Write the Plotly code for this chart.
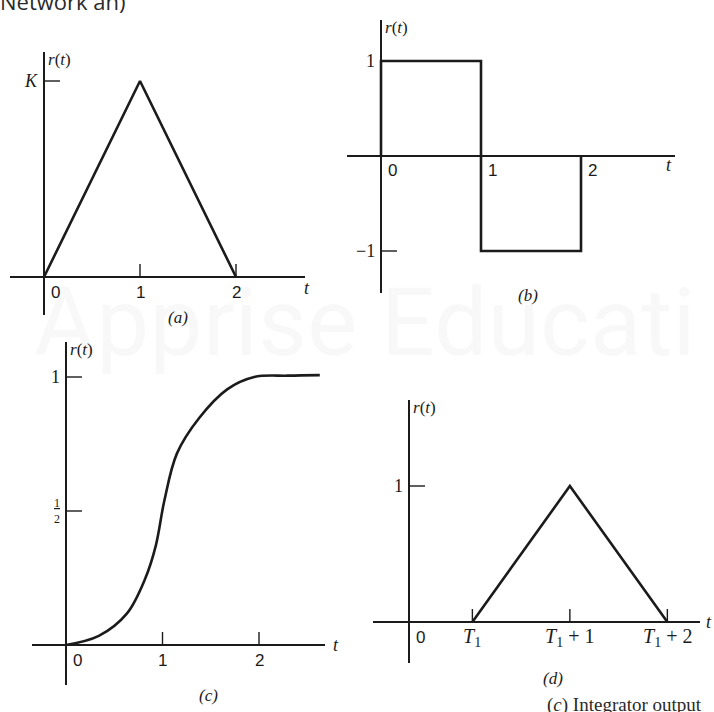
import plotly.graph_objects as go

W, H = 714, 712

# ---------------- data ----------------
# (a) triangular pulse of height K over 0..2
a_t = [0, 1, 2]
a_r = [0, 1, 0]
a_xticks = [1, 2]
a_xlabels = ["1", "2"]
a_yticks = [1]
a_ylabels = ["K"]

# (b) doublet: +1 on 0..1, -1 on 1..2
b_t = [0, 0, 1, 1, 2, 2]
b_r = [0, 1, 1, -1, -1, 0]
b_xticks = [1, 2]
b_xlabels = ["1", "2"]
b_yticks = [1, -1]
b_ylabels = ["1", "\u22121"]

# (c) smooth S-shaped response settling at 1
c_t = [0, 0.34, 0.63, 0.82, 0.93, 1.02, 1.15, 1.38, 1.67, 1.95, 2.3, 2.63]
c_r = [0, 0.034, 0.117, 0.247, 0.37, 0.54, 0.715, 0.847, 0.954, 1.0, 1.005, 1.007]
c_xticks = [1, 2]
c_xlabels = ["1", "2"]
c_yticks = [1, 0.5]
c_ylabels = ["1", "<u>1</u><br>2"]

# (d) triangle delayed by T1
T1 = 0.65
d_t = [T1, T1 + 1, T1 + 2]
d_r = [0, 1, 0]
d_xticks = [T1, T1 + 1, T1 + 2]
d_xlabels = ["<i>T</i><sub>1</sub>", "<i>T</i><sub>1</sub> + 1", "<i>T</i><sub>1</sub> + 2"]
d_yticks = [1]
d_ylabels = ["1"]

# ---------------- layout geometry (pixels) ----------------
INK = "#1b1b1b"
SERIF = "Liberation Serif"
SANS = "Liberation Sans"

panels = [
    # box (left, top, right, bottom), origin (x, y), pixels per unit of t and r
    dict(name="a", box=(10, 52, 305, 315), origin=(44, 277), ux=96, uy=196,
         t=a_t, r=a_r, xt=a_xticks, xl=a_xlabels, yt=a_yticks, yl=a_ylabels,
         ytickmarks=[1], spline=False, cap="(a)", cap_xy=(178, 318),
         tlab=(2, -11), xlab_sans=True),
    dict(name="b", box=(347, 20, 675, 293), origin=(381, 156), ux=100, uy=95,
         t=b_t, r=b_r, xt=b_xticks, xl=b_xlabels, yt=b_yticks, yl=b_ylabels,
         ytickmarks=[-1], spline=False, cap="(b)", cap_xy=(528, 295),
         tlab=(-6, -9), xlab_sans=True),
    dict(name="c", box=(32, 342, 325, 685), origin=(66, 645), ux=96.5, uy=268,
         t=c_t, r=c_r, xt=c_xticks, xl=c_xlabels, yt=c_yticks, yl=c_ylabels,
         ytickmarks=[1, 0.5], spline=True, cap="(c)", cap_xy=(208, 695),
         tlab=(11, 0), xlab_sans=True),
    dict(name="d", box=(373, 400, 700, 663), origin=(409, 622), ux=97.5, uy=136,
         t=d_t, r=d_r, xt=d_xticks, xl=d_xlabels, yt=d_yticks, yl=d_ylabels,
         ytickmarks=[1], spline=False, cap="(d)", cap_xy=(553, 678),
         tlab=(9, 0), xlab_sans=False),
]

xticks_drawn = {"a": [1, 2], "b": [], "c": [1, 2], "d": d_xticks}

fig = go.Figure()
shapes = []
annotations = []


def px(x, y):
    return x / W, 1 - y / H


for i, p in enumerate(panels, start=1):
    sfx = "" if i == 1 else str(i)
    xa, ya = "x" + sfx, "y" + sfx
    left, top, right, bottom = p["box"]
    ox, oy = p["origin"]
    ux, uy = p["ux"], p["uy"]

    common = dict(showgrid=False, showticklabels=False, ticks="", showline=False,
                  zeroline=True, zerolinecolor=INK, zerolinewidth=1.5, fixedrange=True)
    fig.layout["xaxis" + sfx] = dict(
        domain=[left / W, right / W],
        range=[(left - ox) / ux, (right - ox) / ux],
        anchor=ya, **common)
    fig.layout["yaxis" + sfx] = dict(
        domain=[1 - bottom / H, 1 - top / H],
        range=[(oy - bottom) / uy, (oy - top) / uy],
        anchor=xa, **common)

    fig.add_trace(go.Scatter(
        x=p["t"], y=p["r"], mode="lines", xaxis=xa, yaxis=ya,
        line=dict(color=INK, width=2.6,
                  shape="spline" if p["spline"] else "linear", smoothing=1.0),
        hoverinfo="skip", showlegend=False))

    # tick marks standing up from the t axis
    for tv in xticks_drawn[p["name"]]:
        shapes.append(dict(type="line", xref=xa, yref=ya, ysizemode="pixel",
                           yanchor=0, x0=tv, x1=tv, y0=0, y1=13,
                           line=dict(color=INK, width=1.4)))
    # tick marks pointing right from the r axis
    for rv in p["ytickmarks"]:
        shapes.append(dict(type="line", xref=xa, yref=ya, xsizemode="pixel",
                           xanchor=0, x0=0, x1=16, y0=rv, y1=rv,
                           line=dict(color=INK, width=1.4)))

    # origin label
    annotations.append(dict(xref=xa, yref=ya, x=0, y=0, text="0", showarrow=False,
                            xanchor="center", yanchor="middle", xshift=11, yshift=-15,
                            font=dict(family=SANS, size=17, color=INK)))
    # t-axis labels
    for tv, lab in zip(p["xt"], p["xl"]):
        shift = 11 if p["name"] == "b" else 0
        annotations.append(dict(
            xref=xa, yref=ya, x=tv, y=0, text=lab, showarrow=False,
            xanchor="center", yanchor="middle", xshift=shift, yshift=-15,
            font=dict(family=SANS if p["xlab_sans"] else SERIF,
                      size=17 if p["xlab_sans"] else 20, color=INK)))
    # r-axis labels
    for rv, lab in zip(p["yt"], p["yl"]):
        small = "<br>" in lab
        annotations.append(dict(
            xref=xa, yref=ya, x=0, y=rv,
            text=("<i>%s</i>" % lab) if lab == "K" else lab,
            showarrow=False, xanchor="right", yanchor="middle", xshift=-4,
            font=dict(family=SERIF, size=12 if small else 18, color=INK)))
    # axis names
    annotations.append(dict(xref=xa, yref=ya, x=0, y=(oy - top) / uy,
                            text="<i>r</i>(<i>t</i>)", showarrow=False,
                            xanchor="left", yanchor="top", xshift=2, yshift=4,
                            font=dict(family=SERIF, size=17, color=INK)))
    annotations.append(dict(xref=xa, yref=ya, x=(right - ox) / ux, y=0,
                            text="<i>t</i>", showarrow=False,
                            xanchor="center", yanchor="middle",
                            xshift=p["tlab"][0], yshift=p["tlab"][1],
                            font=dict(family=SERIF, size=18, color=INK)))
    # caption
    cx, cy = px(*p["cap_xy"])
    annotations.append(dict(xref="paper", yref="paper", x=cx, y=cy,
                            text="<i>%s</i>" % p["cap"], showarrow=False,
                            xanchor="center", yanchor="middle",
                            font=dict(family=SERIF, size=17, color=INK)))

# faint page watermark and text from the surrounding page
wx, wy = px(32, 322)
annotations.append(dict(xref="paper", yref="paper", x=wx, y=wy, text="Apprise Educati",
                        showarrow=False, xanchor="left", yanchor="middle",
                        font=dict(family="Roboto", size=95, color="rgba(0,0,0,0.028)")))
nx, ny = px(-2, 1)
annotations.append(dict(xref="paper", yref="paper", x=nx, y=ny, text="Network an)",
                        showarrow=False, xanchor="left", yanchor="middle",
                        font=dict(family="Open Sans", size=22, color="#2a2a2a")))
ix, iy = px(545, 705)
annotations.append(dict(xref="paper", yref="paper", x=ix, y=iy, text="(<i>c</i>) Integrator output",
                        showarrow=False, xanchor="left", yanchor="middle",
                        font=dict(family=SERIF, size=19, color="#2a2a2a")))

fig.update_layout(
    width=W, height=H, margin=dict(l=0, r=0, t=0, b=0),
    paper_bgcolor="white", plot_bgcolor="rgba(0,0,0,0)",
    shapes=shapes, annotations=annotations, showlegend=False,
)

fig.write_html("out.html", config={"displayModeBar": False})
